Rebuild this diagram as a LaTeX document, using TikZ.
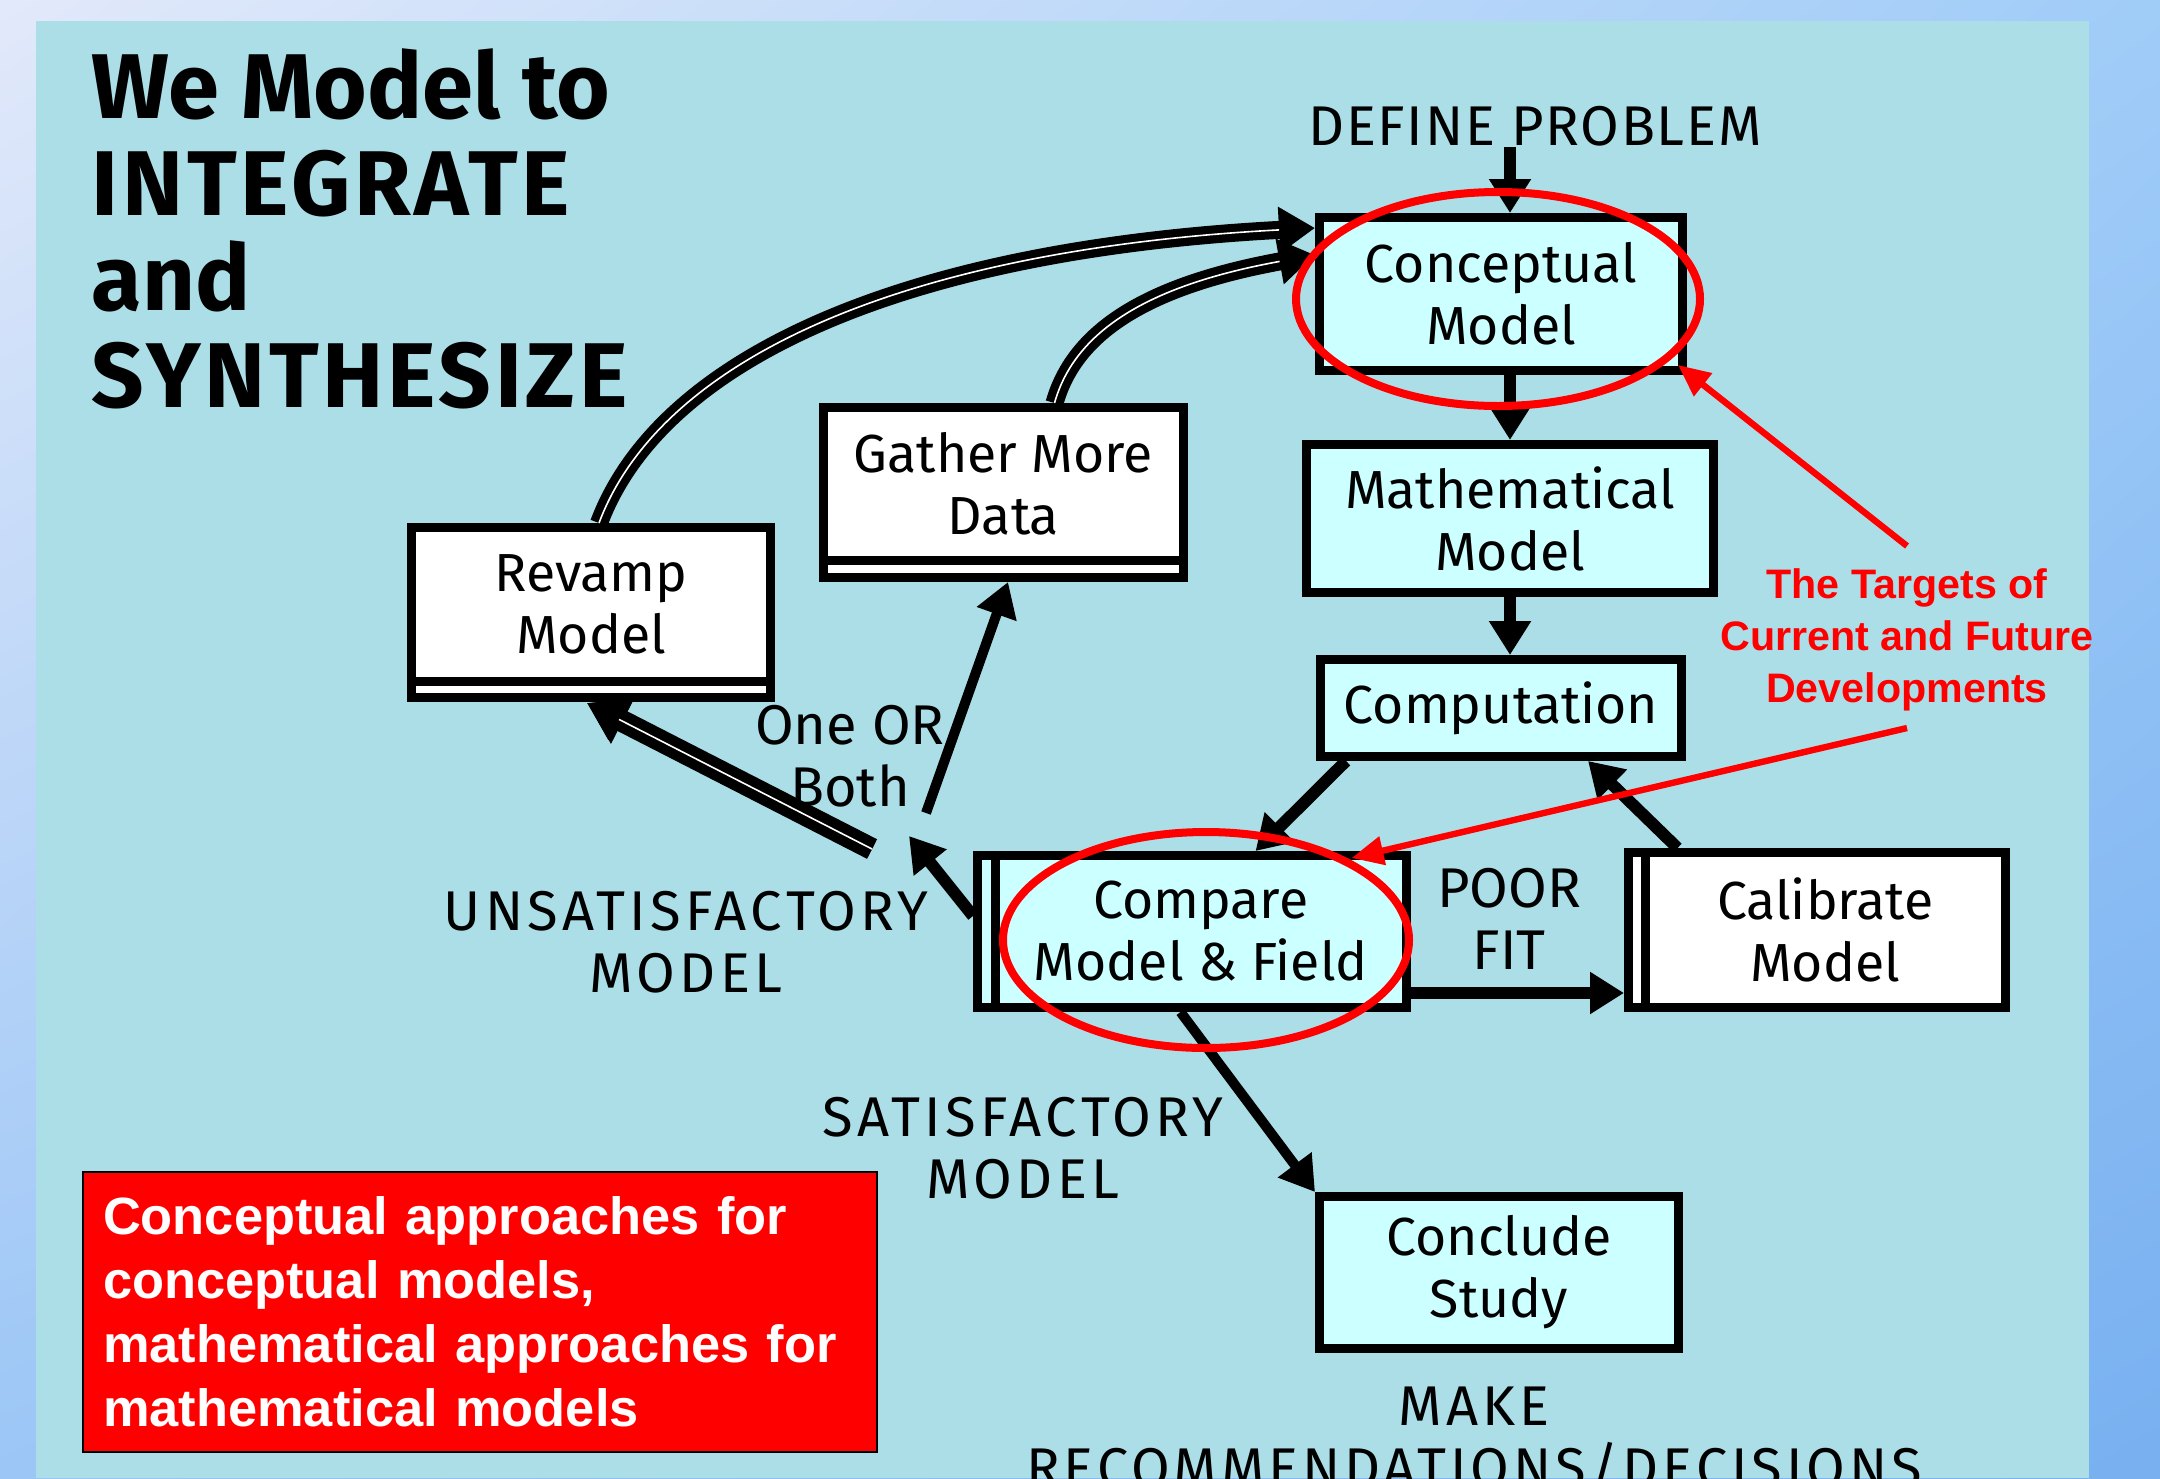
\documentclass[tikz,border=0pt]{standalone}
\usepackage{fontspec}
\setmainfont{Fira Sans}
\newfontfamily\arialfont{Liberation Sans}
\usetikzlibrary{arrows.meta,calc,shadings}
\definecolor{panelcyan}{RGB}{172,222,232}
\definecolor{boxcyan}{RGB}{204,255,255}
\definecolor{purered}{RGB}{255,0,0}
\definecolor{bgul}{RGB}{226,233,250}
\definecolor{bgur}{RGB}{160,204,248}
\definecolor{bgll}{RGB}{155,198,246}
\definecolor{bglr}{RGB}{120,176,240}
\newcommand{\boxfont}{\fontsize{13.4}{15.5}\selectfont}
\newcommand{\capfont}[1]{\fontsize{14}{15.5}\selectfont\addfontfeature{LetterSpace=#1}}
\newcommand{\titlefont}{\fontsize{23}{24}\selectfont\bfseries}
\begin{document}
\begin{tikzpicture}[x=0.25pt,y=-0.25pt,
  boxline/.style={draw=black,line width=2.25pt},
  cbox/.style={boxline,fill=boxcyan,inner sep=0pt,align=center,font=\boxfont},
  wbox/.style={boxline,fill=white,inner sep=0pt,align=center,font=\boxfont},
  lbl/.style={inner sep=0pt,align=center,font=\boxfont},
  ttl/.style={inner sep=0pt,anchor=base west,font=\titlefont},
  arr/.style={draw=black,line width=3pt,-{Triangle[width=10pt,length=8.5pt]}},
  dbl/.style={draw=white,line width=0.4pt,shorten >=9pt,
     preaction={draw=black,line width=4.5pt,shorten >=0pt,-{Triangle[width=11pt,length=9pt]}}},
  redarr/.style={draw=purered,line width=1.6pt,-{Triangle[width=7pt,length=8pt]}},
  redring/.style={draw=purered,line width=2pt}
]
\clip (0,0) rectangle (2160,1478);
\useasboundingbox (0,0) rectangle (2160,1478);
% background
\shade[upper left=bgul,upper right=bgur,lower left=bgll,lower right=bglr]
  (0,0) rectangle (2160,1478);
\fill[panelcyan] (36,21) rectangle (2089,1478);

% title
\node[ttl] (t1) at (91,118) {We Model to};
\node[ttl] (t2) at (91,215) {\addfontfeature{LetterSpace=4}INTEGRATE};
\node[ttl] (t3) at (91,310) {and};
\node[ttl] (t4) at (91,407) {\addfontfeature{LetterSpace=4}SYNTHESIZE};

% boxes
\node[cbox,minimum width=90.75pt,minimum height=38.25pt] (concept) at (1501,294) {Conceptual\\Model};
\node[cbox,minimum width=101.75pt,minimum height=37pt] (math) at (1510,518.5) {Mathematical\\Model};
\node[cbox,minimum width=90.25pt,minimum height=24.25pt] (comput) at (1501,708) {Computation};
\draw[boxline,fill=boxcyan] (995,855.5) rectangle (977.5,1007.5);
\node[cbox,minimum width=102.875pt,minimum height=38pt] (compare) at (1200.75,931.5) {Compare\\Model \& Field};
\draw[boxline,fill=white] (1645,852.5) rectangle (1628.5,1007.5);
\node[wbox,minimum width=90.125pt,minimum height=38.75pt] (calib) at (1825.25,930) {Calibrate\\Model};
\node[cbox,minimum width=89.75pt,minimum height=38pt] (conclude) at (1499,1272.5) {Conclude\\Study};
\draw[boxline,fill=white] (823.5,560) rectangle (1183.5,577.5);
\node[wbox,minimum width=90pt,minimum height=38.125pt] (gather) at (1003.5,483.75) {Gather More\\Data};
\draw[boxline,fill=white] (411.5,681) rectangle (770.5,697.5);
\node[wbox,minimum width=89.75pt,minimum height=38.375pt] (revamp) at (591,604.25) {Revamp\\Model};

% labels
\node[lbl,font=\capfont{3}] (define) at (1535,126) {DEFINE PROBLEM};
\node[lbl,font=\capfont{8}] (unsat) at (686,942) {UNSATISFACTORY\\MODEL};
\node[lbl,font=\capfont{0}] (oneor) at (850,756) {One OR\\Both};
\node[lbl,font=\capfont{0}] (poor) at (1509,919) {POOR\\FIT};
\node[lbl,font=\capfont{8}] (satis) at (1023,1148) {SATISFACTORY\\MODEL};
\node[lbl,font=\capfont{7}] (make) at (1474,1440) {MAKE\\RECOMMENDATIONS/DECISIONS};

% connectors
\coordinate (split) at (909,836);
\draw[arr] (define.south -| math.north) -- (concept.north -| math.north);
\draw[arr] (concept.south -| math.north) -- (math.north);
\draw[arr] (math.south) -- (math.south |- comput.north);
\draw[arr] ($(comput.south west)+(30,0)$) -- ($(compare.north west)+(265,0)$);
\draw[arr] ($(calib.north west)+(37,0)$) -- ($(comput.south west)+(272,0)$);
\draw[arr] ($(compare.south east)+(0,-19)$) -- ($(calib.south west)+(-16.5,-19)$);
\draw[arr,line width=2.5pt] ($(compare.south west)+(190,0)$) -- (conclude.north west);
\draw[arr] ($(compare.north west)+(-17.5,65)$) -- (split);
\draw[arr,line width=2.5pt] ($(split)+(17,-23)$) -- ($(gather.south)+(4.5,17.5)$);
\draw[dbl,preaction={draw=black,line width=5.5pt,shorten >=0pt,-{Triangle[width=12pt,length=10pt]}}]
   ($(split)+(-37,13)$) -- ($(revamp.south)+(-4,17.5)$);
\draw[dbl] ($(revamp.north)+(8,0)$) .. controls (660,360) and (900,250) .. ($(concept.north west)+(0,15)$);
\draw[dbl] ($(gather.north)+(51,0)$) .. controls (1075,330) and (1150,285) .. ($(concept.north west)+(0,42)$);

% red annotations
\draw[redring] (1498,299) ellipse [x radius=50.5pt,y radius=26.75pt];
\draw[redring] (1206,940) ellipse [x radius=50.75pt,y radius=27pt];
\node[inner sep=0pt,align=center,text=purered,font=\arialfont\bfseries\fontsize{10.3}{13}\selectfont] (targets) at (1907,640) {The Targets of\\Current and Future\\Developments};
\draw[redarr] ($(targets.north)+(0,-22)$) -- ($(concept.south east)+(-9,-10)$);
\draw[redarr] ($(targets.south)+(0,16)$) -- ($(compare.north west)+(361,7)$);

% red box
\node[draw=black,line width=0.6pt,fill=purered,minimum width=198.5pt,minimum height=70pt,
      text width=188.5pt,inner xsep=5pt,align=left,text=white,
      font=\arialfont\bfseries\fontsize{13.1}{16}\selectfont] (redbox) at (480,1312)
  {Conceptual approaches for\\conceptual models,\\mathematical approaches for\\mathematical models};
\end{tikzpicture}
\end{document}
